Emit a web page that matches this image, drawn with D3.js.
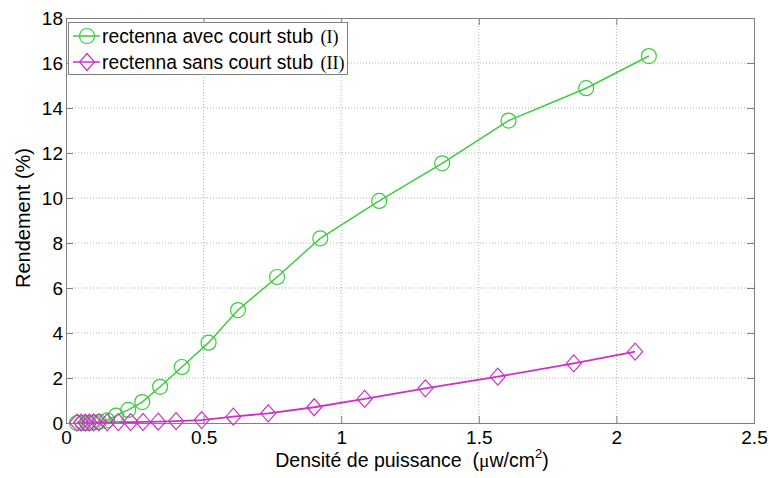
<!DOCTYPE html>
<html>
<head>
<meta charset="utf-8">
<script src="https://cdn.jsdelivr.net/npm/d3@7"></script>
<style>
  body { margin: 0; background: #fff; }
  text { font-family: "Liberation Sans", Arial, sans-serif; }
</style>
</head>
<body>
<script>
var width = 769;
var height = 478;
var margin = { top: 18, right: 15, bottom: 55, left: 66 };

// donnees
var xAvec = [0.04, 0.06, 0.08, 0.10, 0.12, 0.15, 0.182, 0.226, 0.277, 0.342, 0.421, 0.518, 0.625, 0.767, 0.924, 1.138, 1.367, 1.608, 1.89, 2.118];
var yAvec = [0, 0, 0.01, 0.02, 0.05, 0.12, 0.33, 0.58, 0.93, 1.61, 2.49, 3.57, 5.02, 6.49, 8.21, 9.87, 11.54, 13.44, 14.88, 16.31];
var xSans = [0.04, 0.055, 0.07, 0.085, 0.10, 0.12, 0.15, 0.19, 0.235, 0.28, 0.335, 0.40, 0.493, 0.608, 0.735, 0.902, 1.085, 1.306, 1.569, 1.845, 2.068];
var ySans = [0.02, 0.02, 0.02, 0.02, 0.03, 0.03, 0.03, 0.04, 0.04, 0.05, 0.06, 0.08, 0.13, 0.28, 0.43, 0.70, 1.07, 1.54, 2.06, 2.65, 3.17];
var xTicks = [0, 0.5, 1, 1.5, 2, 2.5];
var yTicks = [0, 2, 4, 6, 8, 10, 12, 14, 16, 18];
var noms = ["rectenna avec court stub ", "rectenna sans court stub "];
var chiffres = ["(I)", "(II)"];

var vert = "#3ccc3c";
var magenta = "#cc30cc";

var svg = d3.select("body").append("svg")
  .attr("width", width)
  .attr("height", height);

var xScale = d3.scaleLinear().domain([0, 2.5]).range([margin.left, width - margin.right]);
var yScale = d3.scaleLinear().domain([0, 18]).range([height - margin.bottom, margin.top]);

var x0 = xScale(0), x1 = xScale(2.5), y0 = yScale(0), y1 = yScale(18);

// grille pointillee
svg.append("g").selectAll("line.gx")
  .data(xTicks.slice(1, -1))
  .join("line")
  .attr("x1", d => xScale(d)).attr("x2", d => xScale(d))
  .attr("y1", y0).attr("y2", y1)
  .attr("stroke", "#b0b0b0").attr("stroke-dasharray", "1,2");
svg.append("g").selectAll("line.gy")
  .data(yTicks.slice(1, -1))
  .join("line")
  .attr("x1", x0).attr("x2", x1)
  .attr("y1", d => yScale(d)).attr("y2", d => yScale(d))
  .attr("stroke", "#b0b0b0").attr("stroke-dasharray", "1,2");

// axes facon matlab (ticks vers l'interieur)
var axisx = d3.axisBottom(xScale).tickValues(xTicks).tickSize(-7).tickPadding(7).tickFormat(d3.format("~g"));
var axisy = d3.axisLeft(yScale).tickValues(yTicks).tickSize(-7).tickPadding(3);
var gx = svg.append("g").attr("transform", "translate(0," + y0 + ")").call(axisx);
var gy = svg.append("g").attr("transform", "translate(" + x0 + ",0)").call(axisy);
svg.append("g").attr("transform", "translate(0," + y1 + ")")
  .call(d3.axisTop(xScale).tickValues(xTicks).tickSize(-7).tickFormat(""));
svg.append("g").attr("transform", "translate(" + x1 + ",0)")
  .call(d3.axisRight(yScale).tickValues(yTicks).tickSize(-7).tickFormat(""));
svg.selectAll(".domain").attr("stroke", "#808080");
svg.selectAll(".tick line").attr("stroke", "#808080");
svg.selectAll(".tick text").attr("font-size", "19px").attr("fill", "#000")
  .attr("font-family", "'Liberation Sans', Arial, sans-serif");
gx.selectAll(".tick text").attr("dy", "0.75em");

// titres
svg.append("text")
  .attr("x", (x0 + x1) / 2 + 2).attr("y", 467)
  .attr("text-anchor", "middle").attr("font-size", "19.5px")
  .html("Densité de puissance&#160;&#160;(<tspan font-family='Liberation Serif'>μ</tspan>w/cm<tspan dy='-9' font-size='13px'>2</tspan><tspan dy='9'>)</tspan>");
svg.append("text")
  .attr("transform", "translate(30,218) rotate(-90)")
  .attr("text-anchor", "middle").attr("font-size", "20px")
  .text("Rendement (%)");

// courbes
var ptsAvec = xAvec.map((d, i) => [d, yAvec[i]]);
var ptsSans = xSans.map((d, i) => [d, ySans[i]]);
var line = d3.line().x(d => xScale(d[0])).y(d => yScale(d[1]));

svg.append("path").datum(ptsAvec).attr("fill", "none").attr("stroke", vert).attr("stroke-width", 1.5).attr("d", line);
svg.append("path").datum(ptsSans).attr("fill", "none").attr("stroke", magenta).attr("stroke-width", 1.8).attr("d", line);

var diamant = "M0,-8.5L7.5,0L0,8.5L-7.5,0Z";

svg.append("g").selectAll("circle")
  .data(ptsAvec).join("circle")
  .attr("cx", d => xScale(d[0])).attr("cy", d => yScale(d[1]))
  .attr("r", 7.5).attr("fill", "none").attr("stroke", vert).attr("stroke-width", 1.2);
svg.append("g").selectAll("path")
  .data(ptsSans).join("path")
  .attr("transform", d => "translate(" + xScale(d[0]) + "," + yScale(d[1]) + ")")
  .attr("d", diamant).attr("fill", "none").attr("stroke", magenta).attr("stroke-width", 1.2);

// legende
var leg = svg.append("g");
leg.append("rect").attr("x", 68.5).attr("y", 22.5).attr("width", 279).attr("height", 52)
  .attr("fill", "#fff").attr("stroke", "#808080");
[vert, magenta].forEach(function (c, i) {
  var ly = 36 + i * 26;
  leg.append("line").attr("x1", 73).attr("x2", 100).attr("y1", ly).attr("y2", ly)
    .attr("stroke", c).attr("stroke-width", 1.5);
  if (i === 0) {
    leg.append("circle").attr("cx", 87).attr("cy", ly).attr("r", 7.5)
      .attr("fill", "none").attr("stroke", c).attr("stroke-width", 1.2);
  } else {
    leg.append("path").attr("transform", "translate(87," + ly + ")").attr("d", diamant)
      .attr("fill", "none").attr("stroke", c).attr("stroke-width", 1.2);
  }
  var t = leg.append("text").attr("x", 102).attr("y", ly + 7).attr("font-size", "19.3px").text(noms[i]);
  t.append("tspan").attr("font-family", "'Liberation Serif', serif").attr("font-size", "18px").attr("dx", 2).text(chiffres[i]);
});
</script>
</body>
</html>
